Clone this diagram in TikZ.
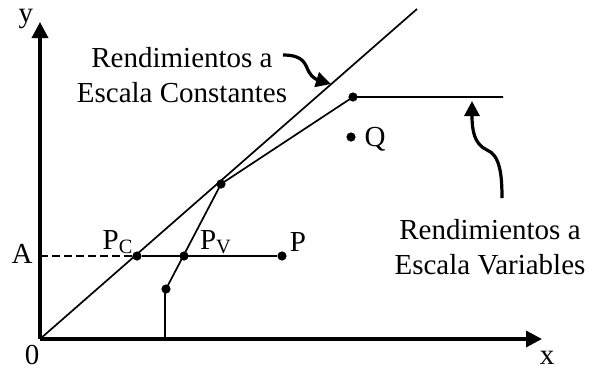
\documentclass[tikz,border=0pt]{standalone}
\usepackage{fontspec}
\setmainfont{Liberation Serif}
\usetikzlibrary{arrows.meta}
\begin{document}
\begin{tikzpicture}[x=0.5pt,y=-0.5pt,
  axisline/.style={line width=1.7pt,-{Triangle[length=8pt,width=8pt]}},
  curveline/.style={line width=0.85pt},
  pointer/.style={line width=1.6pt,-{Triangle[length=7.5pt,width=7.5pt]}},
  dot/.style={circle,fill=black,inner sep=0pt,minimum size=4.6pt},
  lbl/.style={inner sep=0pt,font=\fontsize{14.5}{17.5}\selectfont},
  note/.style={inner sep=0pt,align=center,font=\fontsize{14.5}{17.5}\selectfont}]
\useasboundingbox (0,0) rectangle (590,372);
% axes
\coordinate (o) at (40,339);
\coordinate (ytip) at (40,22);
\coordinate (xtip) at (542,339);
\draw[axisline] (o) -- (ytip);
\draw[axisline] (o) -- (xtip);
\node[lbl] (ylab) at (26,19) {y};
\node[lbl] (xlab) at (547,358) {x};
\node[lbl] (zero) at (32,355) {0};
% constant returns ray
\coordinate (crs) at (417,9);
\draw[curveline] (o) -- (crs);
% points
\node[dot] (pc) at (137,256) {};
\node[dot] (pv) at (184,256) {};
\node[dot] (p) at (282,256) {};
\node[dot] (lo) at (166,289) {};
\node[dot] (kink) at (221,184) {};
\node[dot] (corner) at (353,97) {};
\node[dot] (q) at (351,137) {};
\coordinate (base) at (165,339);
\coordinate (vend) at (503,97);
\coordinate (aend) at (40,256);
% variable returns frontier
\draw[curveline] (base) -- (165,289) -- (lo.center) -- (kink.center) -- (corner.center) -- (vend);
\draw[curveline] (pc) -- (p);
\draw[curveline,dash pattern=on 4pt off 2pt] (aend) -- (pc);
% labels
\node[lbl] (alab) at (22,254) {A};
\node[lbl] (pclab) at (118,242) {P\textsubscript{C}};
\node[lbl] (pvlab) at (216,242) {P\textsubscript{V}};
\node[lbl] (plab) at (298,242) {P};
\node[lbl] (qlab) at (375,139) {Q};
% notes
\node[note] (crsnote) at (182,75) {Rendimientos a\\Escala Constantes};
\node[note] (vrsnote) at (490,247) {Rendimientos a\\Escala Variables};
\coordinate (c1) at (283,55);
\coordinate (c2) at (331,84);
\draw[pointer] (c1) .. controls (305,55) and (305,65) .. (309,72) .. controls (312,78) and (318,80) .. (c2);
\coordinate (v1) at (502,198);
\coordinate (v2) at (472,101);
\draw[pointer] (v1) .. controls (502,175) and (500,155) .. (487,150) .. controls (474,144) and (472,130) .. (v2);
\end{tikzpicture}
\end{document}
